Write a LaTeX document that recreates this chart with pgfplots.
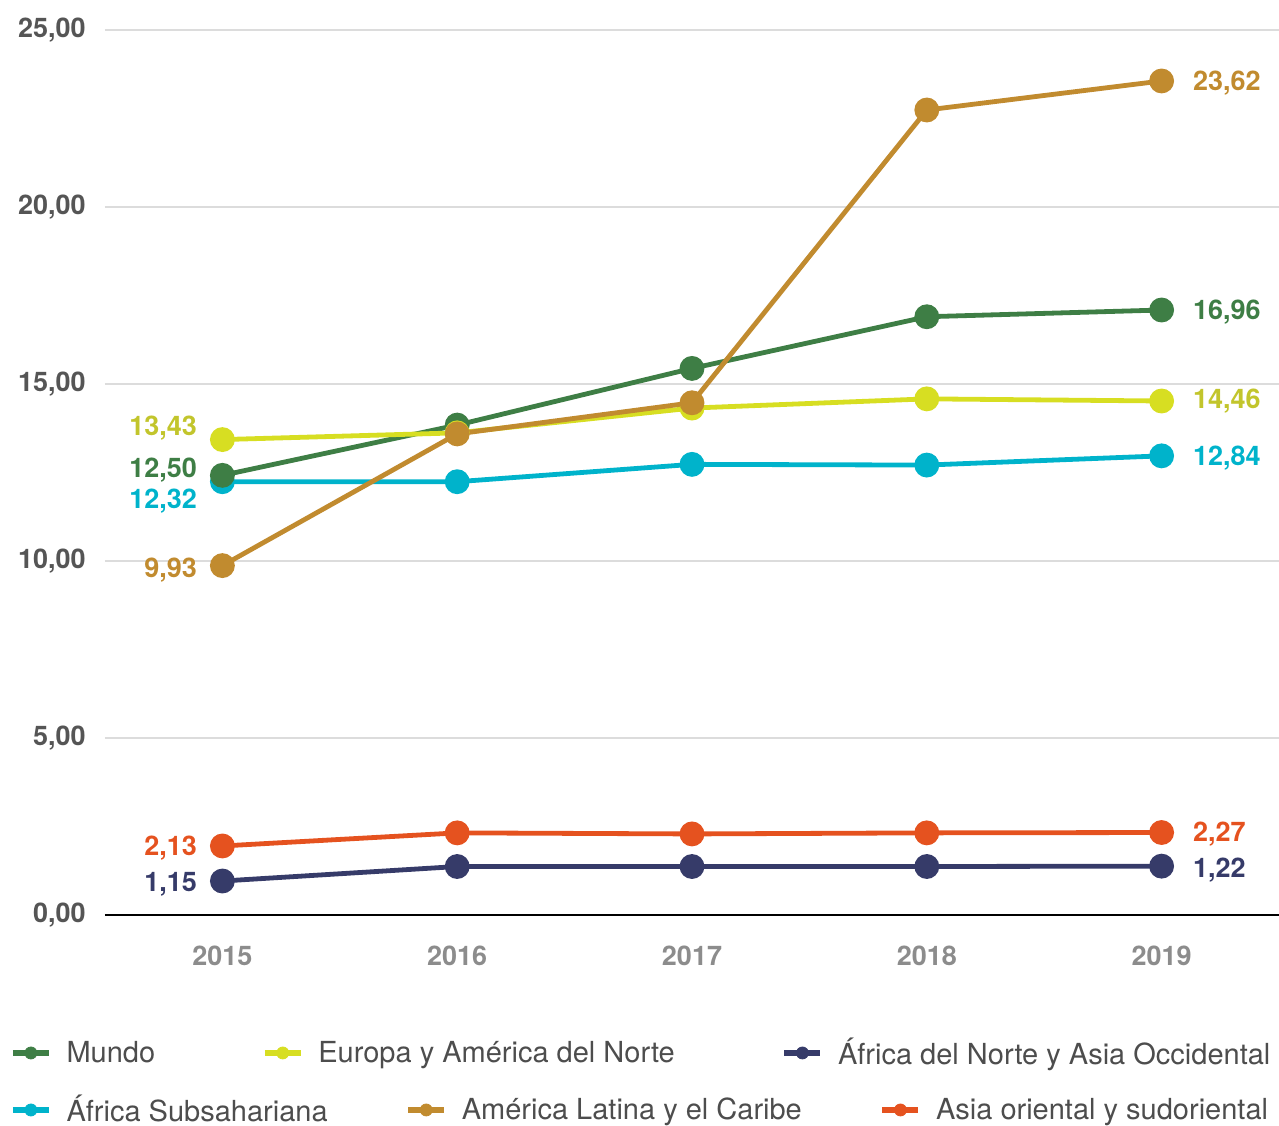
\documentclass[border=0pt]{standalone}
\usepackage{fontspec}
\setmainfont{TeX Gyre Heros}
\usepackage{pgfplots}
\pgfplotsset{compat=1.18}

\definecolor{cMundo}{HTML}{3E7E45}
\definecolor{cEuropa}{HTML}{D7DE22}
\definecolor{cEuropaLbl}{HTML}{C2C52C}
\definecolor{cNorte}{HTML}{363B69}
\definecolor{cSub}{HTML}{00B3CB}
\definecolor{cLatina}{HTML}{C18B2F}
\definecolor{cAsia}{HTML}{E5521F}
\definecolor{ytickc}{HTML}{555555}
\definecolor{xtickc}{HTML}{8C8C8C}
\definecolor{legtext}{HTML}{4D4D4D}
\definecolor{gridc}{HTML}{DCDCDC}

\tikzset{
  lbl/.style={font=\bfseries\fontsize{13.5}{16}\selectfont, text=#1, inner sep=0pt},
}
\pgfplotsset{
  ser/.style={#1, line width=2.4pt, mark=*, mark size=5pt, mark options={draw=none, fill=#1}},
  legrow/.style={
    hide axis, scale only axis, width=587pt, height=442.5pt,
    at={(0,0)}, anchor=south west,
    xmin=2014.5, xmax=2019.5, ymin=0, ymax=25,
    legend columns=-1, legend cell align=left,
    legend image code/.code={
      \draw[##1, line width=2.6pt] (0pt,0pt) -- (18pt,0pt);
      \fill[##1] (9pt,0pt) circle (3pt);},
    legend style={draw=none, fill=none, inner sep=0pt, anchor=west,
      font=\fontsize{14.5}{17}\selectfont,
      nodes={inner sep=0pt, text=legtext},
      /tikz/every odd column/.append style={column sep=7.5pt}},
  },
}

\begin{document}
\begin{tikzpicture}
\useasboundingbox (-52.5pt,-105pt) rectangle (587pt,457.5pt);
\clip (-52.5pt,-105pt) rectangle (587pt,457.5pt);

\begin{axis}[
  scale only axis, width=587pt, height=442.5pt,
  at={(0,0)}, anchor=south west,
  xmin=2014.5, xmax=2019.5, ymin=0, ymax=25,
  xtick={2015,2016,2017,2018,2019},
  xticklabels={2015,2016,2017,2018,2019},
  ytick={0,5,10,15,20,25},
  yticklabel={\pgfmathprintnumber[fixed,fixed zerofill,precision=2,use comma]{\tick}},
  /pgf/number format/assume math mode=true,
  axis x line*=bottom, axis y line*=left,
  axis line style={-},
  y axis line style={draw=none},
  x axis line style={black, line width=1.2pt},
  major tick length=0pt,
  ymajorgrids, grid style={draw=gridc, line width=1pt},
  yticklabel style={font=\bfseries\fontsize{13.5}{16}\selectfont, text=ytickc, inner sep=0pt, xshift=-9.5pt},
  xticklabel style={font=\bfseries\fontsize{13.5}{16}\selectfont, text=xtickc, inner sep=0pt, yshift=-15.5pt},
  clip=false,
]
\addplot[ser=cSub] coordinates {(2015,12.24) (2016,12.24) (2017,12.73) (2018,12.71) (2019,12.97)};
\addplot[ser=cMundo] coordinates {(2015,12.42) (2016,13.84) (2017,15.44) (2018,16.90) (2019,17.09)};
\addplot[ser=cEuropa] coordinates {(2015,13.43) (2016,13.62) (2017,14.32) (2018,14.58) (2019,14.52)};
\addplot[ser=cLatina] coordinates {(2015,9.87) (2016,13.59) (2017,14.47) (2018,22.74) (2019,23.56)};
\addplot[ser=cNorte] coordinates {(2015,0.96) (2016,1.37) (2017,1.37) (2018,1.37) (2019,1.38)};
\addplot[ser=cAsia] coordinates {(2015,1.95) (2016,2.32) (2017,2.29) (2018,2.32) (2019,2.33)};

% value labels, left side
\node[lbl=cEuropaLbl, anchor=base east, xshift=-12.5pt] at (axis cs:2015,13.54) {13,43};
\node[lbl=cMundo, anchor=base east, xshift=-12.5pt] at (axis cs:2015,12.35) {12,50};
\node[lbl=cSub, anchor=base east, xshift=-12.5pt] at (axis cs:2015,11.47) {12,32};
\node[lbl=cLatina, anchor=base east, xshift=-12.5pt] at (axis cs:2015,9.52) {9,93};
\node[lbl=cAsia, anchor=base east, xshift=-12.5pt] at (axis cs:2015,1.67) {2,13};
\node[lbl=cNorte, anchor=base east, xshift=-12.5pt] at (axis cs:2015,0.65) {1,15};
% value labels, right side
\node[lbl=cLatina, anchor=base west, xshift=15.5pt] at (axis cs:2019,23.28) {23,62};
\node[lbl=cMundo, anchor=base west, xshift=15.5pt] at (axis cs:2019,16.81) {16,96};
\node[lbl=cEuropaLbl, anchor=base west, xshift=15.5pt] at (axis cs:2019,14.30) {14,46};
\node[lbl=cSub, anchor=base west, xshift=15.5pt] at (axis cs:2019,12.69) {12,84};
\node[lbl=cAsia, anchor=base west, xshift=15.5pt] at (axis cs:2019,2.07) {2,27};
\node[lbl=cNorte, anchor=base west, xshift=15.5pt] at (axis cs:2019,1.05) {1,22};
\end{axis}

% legend, first row
\begin{axis}[legrow,
  legend style={at={(axis description cs:-0.0810,-0.1559)},
    /tikz/every even column/.append style={column sep=53.5pt}}]
\addlegendimage{cMundo}\addlegendentry{Mundo}
\addlegendimage{cEuropa}\addlegendentry{Europa y América del Norte}
\addlegendimage{cNorte}\addlegendentry{África del Norte y Asia Occidental}
\end{axis}

% legend, second row
\begin{axis}[legrow,
  legend style={at={(axis description cs:-0.0810,-0.2203)},
    /tikz/every even column/.append style={column sep=39pt}}]
\addlegendimage{cSub}\addlegendentry{África Subsahariana}
\addlegendimage{cLatina}\addlegendentry{América Latina y el Caribe}
\addlegendimage{cAsia}\addlegendentry{Asia oriental y sudoriental}
\end{axis}
\end{tikzpicture}
\end{document}
